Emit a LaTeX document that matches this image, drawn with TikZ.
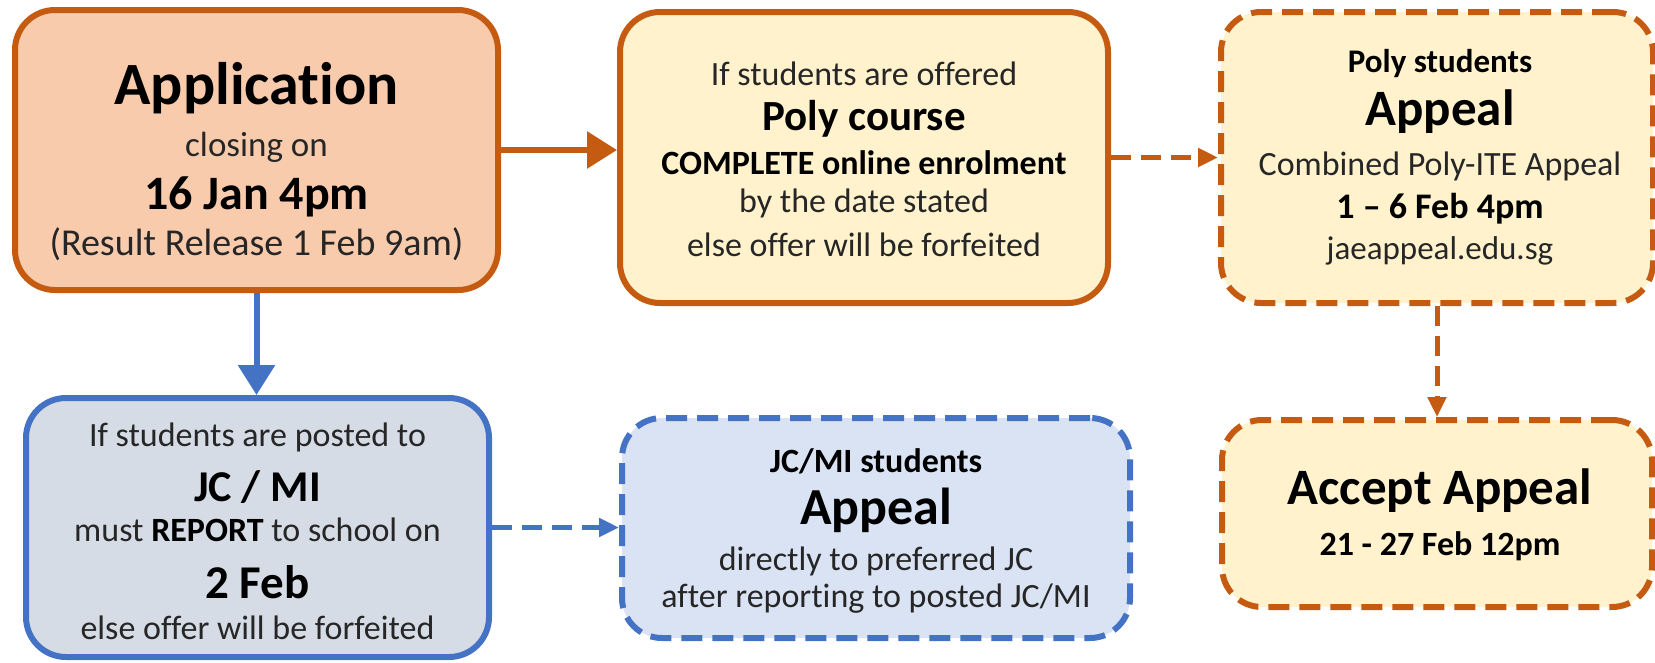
\documentclass[tikz,border=0pt]{standalone}
\usepackage{fontspec}
\setmainfont{Carlito}[Ligatures=NoCommon]
\usetikzlibrary{arrows.meta}
\definecolor{orng}{HTML}{C55A11}
\definecolor{peach}{HTML}{F8CBAD}
\definecolor{cream}{HTML}{FFF2CC}
\definecolor{blu}{HTML}{4472C4}
\definecolor{slate}{HTML}{D6DCE5}
\definecolor{pale}{HTML}{DAE3F3}
\definecolor{ink}{HTML}{262626}
\newcommand{\fsz}[1]{\fontsize{#1}{#1}\selectfont}
\tikzstyle{box} = [draw,line width=6pt,rounded corners=40pt,inner sep=0pt]
\tikzstyle{obox} = [box,draw=orng]
\tikzstyle{bbox} = [box,draw=blu]
\tikzstyle{dbox} = [dash pattern=on 21pt off 10pt]
\tikzstyle{ln} = [inner sep=0pt,text=ink]
\tikzstyle{hd} = [inner sep=0pt,text=black]
\tikzstyle{arr} = [line width=6pt,-{Triangle[length=30pt,width=36pt]}]
\tikzstyle{darr} = [line width=5pt,dash pattern=on 20pt off 10pt,-{Triangle[length=20pt,width=18pt]}]

\begin{document}
\begin{tikzpicture}[x=1pt,y=-1pt]
    \useasboundingbox (0,0) rectangle (1655,662);

    % boxes
    \node[obox,fill=peach,minimum width=483pt,minimum height=280pt] (App) at (256.5,150) {};
    \node[obox,fill=cream,minimum width=488pt,minimum height=291pt] (Poly) at (864,157.5) {};
    \node[obox,dbox,fill=cream,minimum width=432pt,minimum height=291pt] (PA) at (1437,157.5) {};
    \node[obox,dbox,fill=cream,minimum width=430pt,minimum height=187pt] (Acc) at (1437,513.5) {};
    \node[bbox,fill=slate,minimum width=463pt,minimum height=259pt] (JC) at (257.5,527.5) {};
    \node[bbox,dbox,fill=pale,minimum width=508pt,minimum height=220pt] (JA) at (876,528) {};

    % application
    \node[hd,font=\bfseries\fsz{60}] (App1) at (256.5,88) {Application};
    \node[ln,font=\fsz{35}] (App2) at (256.5,147) {closing on};
    \node[hd,font=\bfseries\fsz{48}] (App3) at (256.5,197) {16 Jan 4pm};
    \node[ln,font=\fsz{38}] (App4) at (256.5,244) {(Result Release 1 Feb 9am)};

    % poly course
    \node[ln,font=\fsz{34}] (Poly1) at (864,74) {If students are offered};
    \node[hd,font=\bfseries\fsz{43}] (Poly2) at (864,119) {Poly course};
    \node[hd,font=\bfseries\fsz{34}] (Poly3) at (864,163) {COMPLETE online enrolment};
    \node[ln,font=\fsz{34}] (Poly4) at (864,203) {by the date stated};
    \node[ln,font=\fsz{34}] (Poly5) at (864,245) {else offer will be forfeited};

    % poly appeal
    \node[hd,font=\bfseries\fsz{33}] (PA1) at (1440,64) {Poly students};
    \node[hd,font=\bfseries\fsz{51}] (PA2) at (1440,112) {Appeal};
    \node[ln,font=\fsz{34}] (PA3) at (1440,166) {Combined Poly-ITE Appeal};
    \node[hd,font=\bfseries\fsz{36}] (PA4) at (1440,209) {1 -- 6 Feb 4pm};
    \node[ln,font=\fsz{33}] (PA5) at (1440,251) {jaeappeal.edu.sg};

    % accept
    \node[hd,font=\bfseries\fsz{51}] (Acc1) at (1440,491) {Accept Appeal};
    \node[hd,font=\bfseries\fsz{34}] (Acc2) at (1440,546) {21 - 27 Feb 12pm};

    % jc / mi
    \node[ln,font=\fsz{34}] (JC1) at (257.5,437) {If students are posted to};
    \node[hd,font=\bfseries\fsz{44}] (JC2) at (257.5,487) {JC / MI};
    \node[ln,font=\fsz{34}] (JC3) at (257.5,530) {must \textbf{\color{black}REPORT} to school on};
    \node[hd,font=\bfseries\fsz{47}] (JC4) at (257.5,582) {2 Feb};
    \node[ln,font=\fsz{34}] (JC5) at (257.5,628) {else offer will be forfeited};

    % jc appeal
    \node[hd,font=\bfseries\fsz{34}] (JA1) at (876,461) {JC/MI students};
    \node[hd,font=\bfseries\fsz{52}] (JA2) at (876,510) {Appeal};
    \node[ln,font=\fsz{34}] (JA3) at (876,561) {directly to preferred JC};
    \node[ln,font=\fsz{34}] (JA4) at (876,599) {after reporting to posted JC/MI};

    % connectors
    \draw[arr,orng] (App.east) -- (App.east -| Poly.west);
    \draw[darr,orng] (Poly.east) -- (PA.west);
    \draw[darr,orng] (PA.south) -- (PA.south |- Acc.north);
    \draw[arr,blu] (App.south) -- (App.south |- JC.north);
    \draw[darr,blu] (JC.east) -- (JC.east -| JA.west);

\end{tikzpicture}
\end{document}
